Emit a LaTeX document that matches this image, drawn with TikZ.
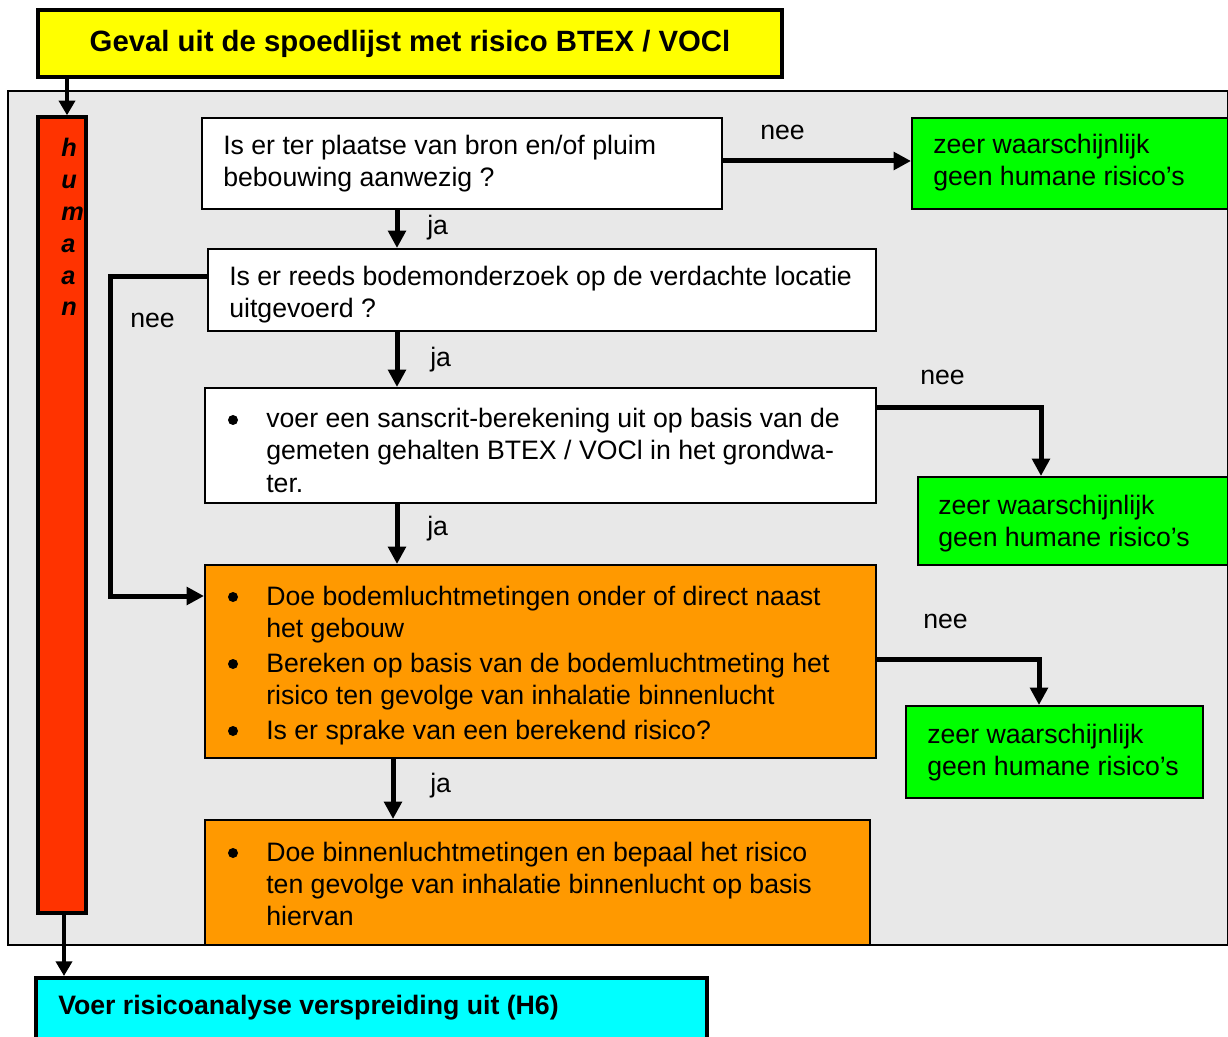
\documentclass[tikz,border=0pt]{standalone}
\usepackage{fontspec}
\setmainfont{Liberation Sans}
\usetikzlibrary{arrows.meta,fit}

\definecolor{paneGrey}{HTML}{E8E8E8}
\definecolor{startYellow}{HTML}{FFFF00}
\definecolor{barRed}{HTML}{FF3300}
\definecolor{okGreen}{HTML}{00FF00}
\definecolor{stepOrange}{HTML}{FF9900}
\definecolor{endCyan}{HTML}{00FFFF}

\newcommand{\bodyfont}{\fontsize{20pt}{24pt}\selectfont}
\newcommand{\txtlines}[1]{\parbox[t]{25cm}{\bodyfont\raggedright #1}}

\tikzset{
  area/.style={draw, line width=1.5pt, inner sep=0pt},
  whitebox/.style={area, fill=white},
  greenbox/.style={area, fill=okGreen},
  orangebox/.style={area, fill=stepOrange},
  txt/.style={anchor=base west, inner sep=0pt, font=\bodyfont},
  arr/.style={line width=3.75pt, -{Triangle[length=13pt,width=13pt]}},
  thinarr/.style={line width=3pt, -{Triangle[length=11pt,width=12pt]}},
  bul/.style={circle, fill=black, inner sep=0pt, minimum size=7.5pt},
  vletter/.style={anchor=base west, inner sep=0pt, font=\fontsize{19pt}{24pt}\selectfont\bfseries\itshape},
}

\begin{document}
\begin{tikzpicture}[x=0.75pt,y=-0.75pt]
  \useasboundingbox (0,0) rectangle (1228,1037);
  \clip (0,0) rectangle (1228,1037);

  % grey panel holding the human-risk route
  \node[area, fill=paneGrey, fit={(8,91) (1228,945)}] (pane) {};

  % start box
  \node[area, line width=3pt, fill=startYellow, fit={(38,10) (782,77)}] (start) {};
  \node[anchor=base, inner sep=0pt, font=\fontsize{22pt}{24pt}\selectfont\bfseries] (startt) at (410,52)
    {Geval uit de spoedlijst met risico BTEX / VOCl};

  % vertical "humaan" bar
  \node[area, line width=2.6pt, fill=barRed, fit={(38,117) (86,913)}] (bar) {};
  \node[vletter] (l1) at (61,157) {h};
  \node[vletter] (l2) at (61,189) {u};
  \node[vletter] (l3) at (61,221) {m};
  \node[vletter] (l4) at (61,253) {a};
  \node[vletter] (l5) at (61,285) {a};
  \node[vletter] (l6) at (61,316) {n};

  % end box
  \node[area, line width=3pt, fill=endCyan, fit={(36,978) (707,1070)}] (finish) {};
  \node[anchor=base west, inner sep=0pt, font=\fontsize{20pt}{24pt}\selectfont\bfseries] (finisht) at (58,1014)
    {Voer risicoanalyse verspreiding uit (H6)};

  % decision and action boxes
  \node[whitebox, fit={(202,118) (722,209)}] (b1) {};
  \node[txt] (b1t) at (223,155) {\txtlines{Is er ter plaatse van bron en/of pluim\\bebouwing aanwezig ?}};

  \node[whitebox, fit={(208,249) (876,331)}] (b2) {};
  \node[txt] (b2t) at (229,286) {\txtlines{Is er reeds bodemonderzoek op de verdachte locatie\\uitgevoerd ?}};

  \node[whitebox, fit={(205,388) (876,503)}] (b3) {};
  \node[txt] (b3t) at (266,428) {\txtlines{voer een sanscrit-berekening uit op basis van de\\gemeten gehalten BTEX / VOCl in het grondwa-\\ter.}};
  \node[bul] (b3b) at (233,420) {};

  \node[orangebox, fit={(205,565) (876,758)}] (b4) {};
  \node[txt] (b4t) at (266,605) {\txtlines{Doe bodemluchtmetingen onder of direct naast\\het gebouw\\[2.6pt]Bereken op basis van de bodemluchtmeting het\\risico ten gevolge van inhalatie binnenlucht\\[2.6pt]Is er sprake van een berekend risico?}};
  \node[bul] (b4b1) at (233,597) {};
  \node[bul] (b4b2) at (233,664) {};
  \node[bul] (b4b3) at (233,731) {};

  \node[orangebox, fit={(205,820) (870,945)}] (b5) {};
  \node[txt] (b5t) at (266,861) {\txtlines{Doe binnenluchtmetingen en bepaal het risico\\ten gevolge van inhalatie binnenlucht op basis\\hiervan}};
  \node[bul] (b5b) at (233,853) {};

  % outcome boxes
  \node[greenbox, fit={(912,118) (1228,209)}] (g1) {};
  \node[txt] (g1t) at (933,154) {\txtlines{zeer waarschijnlijk\\geen humane risico’s}};
  \node[greenbox, fit={(918,477) (1228,565)}] (g2) {};
  \node[txt] (g2t) at (938,514) {\txtlines{zeer waarschijnlijk\\geen humane risico’s}};
  \node[greenbox, fit={(906,706) (1203,798)}] (g3) {};
  \node[txt] (g3t) at (927,743) {\txtlines{zeer waarschijnlijk\\geen humane risico’s}};

  % connectors
  \draw[thinarr] (start.south -| 67,0) -- (bar.north -| 67,0);
  \draw[thinarr] (bar.south -| 64,0) -- (finish.north -| 64,0);

  \draw[arr] (b1.south -| 397,0) -- (b2.north -| 397,0);
  \draw[arr] (b2.south -| 397,0) -- (b3.north -| 397,0);
  \draw[arr] (b3.south -| 397,0) -- (b4.north -| 397,0);
  \draw[arr] (b4.south -| 393,0) -- (b5.north -| 393,0);

  \draw[arr] (b1.east |- 0,161) -- (g1.west |- 0,161);
  \draw[arr] (b2.west |- 0,277) -| (110,596) -- (b4.west |- 0,596);
  \draw[arr] (b3.east |- 0,408) -| (g2.north -| 1041,0);
  \draw[arr] (b4.east |- 0,659) -| (g3.north -| 1039,0);

  % branch labels
  \node[txt] (ja1) at (427,235) {ja};
  \node[txt] (ja2) at (430,367) {ja};
  \node[txt] (ja3) at (427,535) {ja};
  \node[txt] (ja4) at (430,792) {ja};
  \node[txt] (nee1) at (760,140) {nee};
  \node[txt] (nee2) at (130,328) {nee};
  \node[txt] (nee3) at (920,385) {nee};
  \node[txt] (nee4) at (923,628) {nee};
\end{tikzpicture}
\end{document}
